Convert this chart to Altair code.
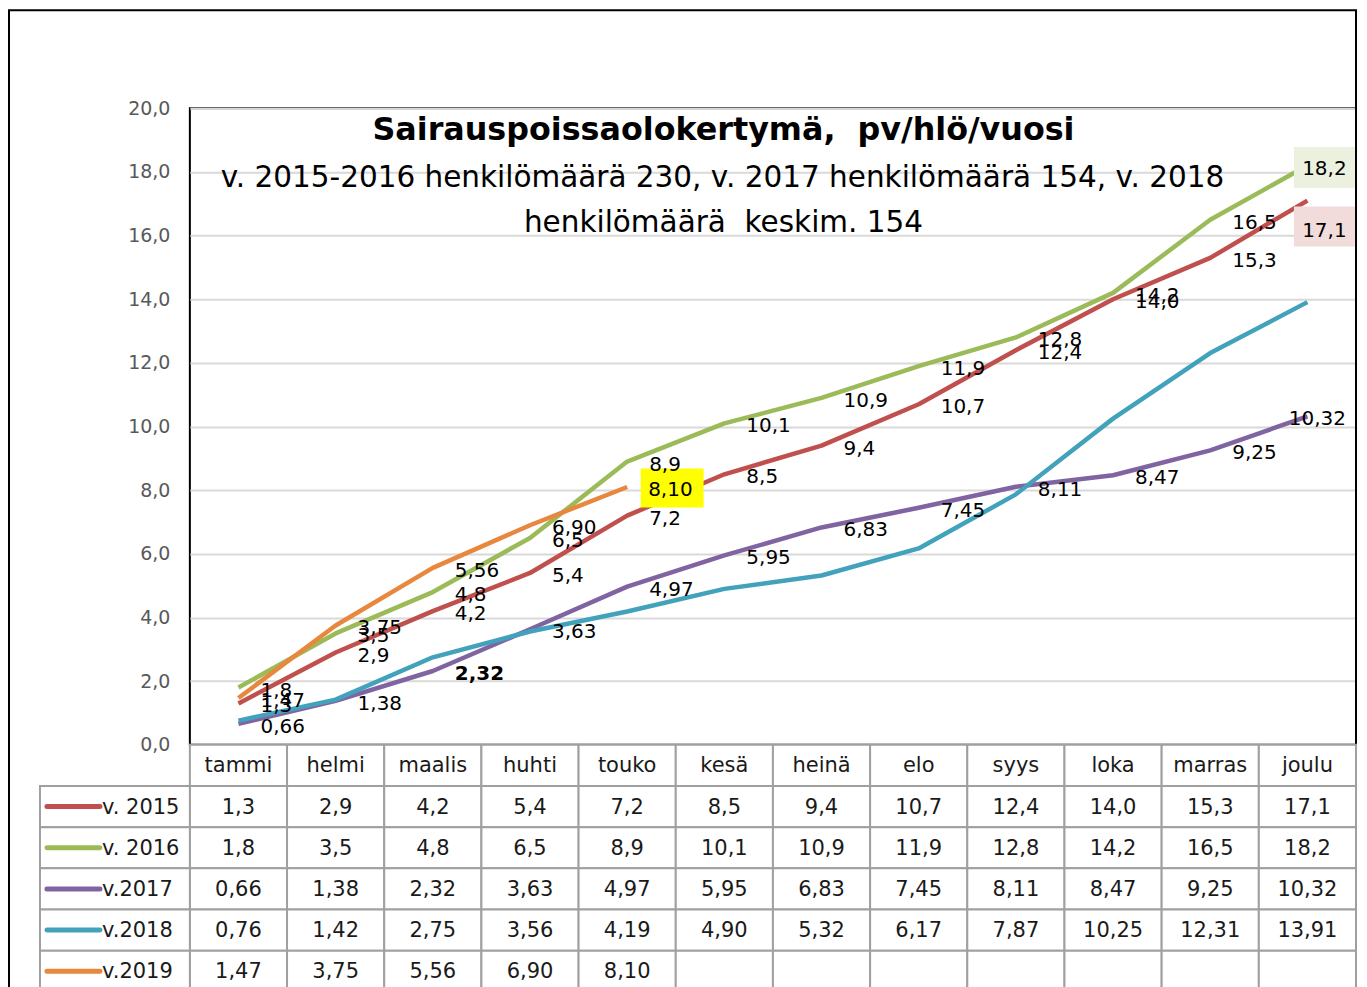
import altair as alt
import pandas as pd

MONTHS = ["tammi", "helmi", "maalis", "huhti", "touko", "kesä", "heinä",
          "elo", "syys", "loka", "marras", "joulu"]
SERIES = ["v. 2015", "v. 2016", "v.2017", "v.2018", "v.2019"]
V2015 = [1.3, 2.9, 4.2, 5.4, 7.2, 8.5, 9.4, 10.7, 12.4, 14.0, 15.3, 17.1]
V2016 = [1.8, 3.5, 4.8, 6.5, 8.9, 10.1, 10.9, 11.9, 12.8, 14.2, 16.5, 18.2]
V2017 = [0.66, 1.38, 2.32, 3.63, 4.97, 5.95, 6.83, 7.45, 8.11, 8.47, 9.25, 10.32]
V2018 = [0.76, 1.42, 2.75, 3.56, 4.19, 4.90, 5.32, 6.17, 7.87, 10.25, 12.31, 13.91]
V2019 = [1.47, 3.75, 5.56, 6.90, 8.10]
DECIMALS = [1, 1, 2, 2, 2]
LABELLED = [True, True, True, False, True]
COLORS = ["#C0504D", "#9BBB59", "#8064A2", "#42A2BC", "#E8873E"]
TITLE = "Sairauspoissaolokertymä,\u00a0 pv/hlö/vuosi"
SUBTITLE = ["v. 2015-2016 henkilömäärä 230, v. 2017 henkilömäärä 154, v. 2018",
            "henkilömäärä\u00a0 keskim. 154"]
Y_TICKS = list(range(0, 21, 2))

FONT = "DejaVu Sans"
W, H = 1167, 637
ROW_H = 41.2


def fmt(v, d):
    return f"{v:.{d}f}".replace(".", ",")


rows = []
for s, vals, d, lab in zip(SERIES, [V2015, V2016, V2017, V2018, V2019], DECIMALS, LABELLED):
    for i, v in enumerate(vals):
        rows.append(dict(series=s, month=MONTHS[i], idx=i, value=v,
                         label=fmt(v, d), labelled=lab, key=f"{s}|{MONTHS[i]}"))
df = pd.DataFrame(rows)

BOLD = ["v.2017|maalis"]
BOX_YELLOW = ["v.2019|touko"]
BOX_GREEN = ["v. 2016|joulu"]
BOX_PINK = ["v. 2015|joulu"]
SHIFT = ["v.2017|joulu"]
SPECIAL = BOLD + BOX_YELLOW + BOX_GREEN + BOX_PINK + SHIFT

lab_df = df[df.labelled]
normal = lab_df[~lab_df.key.isin(SPECIAL)]

xsc = alt.Scale(type="band", domain=MONTHS, paddingInner=0, paddingOuter=0)
XC = alt.X("month:N", scale=xsc, axis=None, bandPosition=0.5)
XB = alt.X("month:N", scale=xsc, axis=None)
ysc = alt.Scale(domain=[0, 20], nice=False, zero=False)
yaxis = alt.Axis(values=Y_TICKS, labelExpr="replace(format(datum.value, '.1f'), '.', ',')",
                 orient="left", grid=True, gridColor="#D9D9D9", gridWidth=2, domain=False,
                 ticks=False, labelPadding=20, labelFont=FONT, labelFontSize=19,
                 labelColor="#595959", title=None)
YV = alt.Y("value:Q", scale=ysc, axis=yaxis)
color = alt.Color("series:N", scale=alt.Scale(domain=SERIES, range=COLORS), legend=None)

lines = alt.Chart(df).mark_line(strokeWidth=4.5, strokeJoin="round").encode(
    x=XC, y=YV, color=color, order=alt.Order("idx:Q"), detail="series:N")

lab_base = dict(font=FONT, fontSize=20, color="black", baseline="middle")
labels = alt.Chart(normal).mark_text(align="left", dx=22, dy=3, **lab_base).encode(
    x=XC, y=YV, text="label:N")
bold = alt.Chart(df[df.key.isin(BOLD)]).mark_text(align="left", dx=22, dy=3, fontWeight="bold", **lab_base).encode(
    x=XC, y=YV, text="label:N")
shift = alt.Chart(df[df.key.isin(SHIFT)]).mark_text(align="center", dx=10, dy=3, **lab_base).encode(
    x=XC, y=YV, text="label:N")

box_y = alt.Chart(df[df.key.isin(BOX_YELLOW)]).mark_rect(width=63, height=39, xOffset=45, yOffset=1, color="#FFFF00").encode(x=XC, y=YV)
txt_y = alt.Chart(df[df.key.isin(BOX_YELLOW)]).mark_text(align="left", dx=21, dy=3, **lab_base).encode(x=XC, y=YV, text="label:N")
box_g = alt.Chart(df[df.key.isin(BOX_GREEN)]).mark_rect(width=61, height=41, xOffset=17, yOffset=2, color="#EBF1DE").encode(x=XC, y=YV)
txt_g = alt.Chart(df[df.key.isin(BOX_GREEN)]).mark_text(align="center", dx=17, dy=3, **lab_base).encode(x=XC, y=YV, text="label:N")
box_p = alt.Chart(df[df.key.isin(BOX_PINK)]).mark_rect(width=61, height=40, xOffset=17, yOffset=26, color="#F2DCDB").encode(x=XC, y=YV)
txt_p = alt.Chart(df[df.key.isin(BOX_PINK)]).mark_text(align="center", dx=17, dy=30, **lab_base).encode(x=XC, y=YV, text="label:N")

tdf = pd.DataFrame({"t": [TITLE]})
title = alt.Chart(tdf).mark_text(font=FONT, fontSize=31.8, fontWeight="bold", color="black",
                                 align="center", baseline="middle").encode(
    text="t:N", x=alt.value(534), y=alt.value(22))
sdf = pd.DataFrame({"t": SUBTITLE, "line": [0, 1]})
sub1 = alt.Chart(sdf[sdf.line == 0]).mark_text(font=FONT, fontSize=29.5, color="black",
                                               align="center", baseline="middle").encode(
    text="t:N", x=alt.value(533), y=alt.value(70))
sub2 = alt.Chart(sdf[sdf.line == 1]).mark_text(font=FONT, fontSize=29.5, color="black",
                                               align="center", baseline="middle").encode(
    text="t:N", x=alt.value(534), y=alt.value(115))

frame = alt.Chart(pd.DataFrame({"f": [0]})).mark_rect(fillOpacity=0, stroke="black", strokeWidth=2).encode(
    x=alt.value(-181), x2=alt.value(W), y=alt.value(-98), y2=alt.value(H + 300))

plot = alt.layer(lines, box_y, box_g, box_p, labels, bold, shift, txt_y, txt_g, txt_p,
                 title, sub1, sub2, frame)

# ---- data table below the plot ----
ROWS = ["hdr"] + SERIES
trows = []
for m in MONTHS:
    trows.append(dict(row="hdr", month=m, text=m))
for s in SERIES:
    sub = df[df.series == s].set_index("month")
    for m in MONTHS:
        trows.append(dict(row=s, month=m, text=sub.label[m] if m in sub.index else ""))
table_df = pd.DataFrame(trows)
leg_df = pd.DataFrame({"row": SERIES, "series": SERIES})

ytsc = alt.Scale(domain=ROWS, range=[H, H + ROW_H * len(ROWS)], paddingInner=0, paddingOuter=0)
YTB = alt.Y("row:N", scale=ytsc, axis=None)
YTC = alt.Y("row:N", scale=ytsc, axis=None, bandPosition=0.5)

cells = alt.Chart(table_df).mark_rect(fill="white", stroke="#A0A0A0", strokeWidth=2).encode(x=XB, y=YTB)
cell_txt = alt.Chart(table_df).mark_text(font=FONT, fontSize=21, color="#1a1a1a", baseline="middle", dy=1).encode(
    x=XC, y=YTC, text="text:N")
leg_cells = alt.Chart(leg_df).mark_rect(fill="white", stroke="#A0A0A0", strokeWidth=2).encode(
    x=alt.value(-150), x2=alt.value(0), y=YTB)
leg_sw = alt.Chart(leg_df).mark_rule(strokeWidth=5, strokeCap="round").encode(
    x=alt.value(-143), x2=alt.value(-90), y=YTC, color=color)
leg_txt = alt.Chart(leg_df).mark_text(font=FONT, fontSize=21, color="#1a1a1a", align="left", baseline="middle", dy=1).encode(
    x=alt.value(-88), y=YTC, text="series:N")

table = alt.layer(cells, cell_txt, leg_cells, leg_sw, leg_txt)

chart = alt.layer(plot, table).resolve_scale(y="independent").properties(
    width=W, height=H,
    autosize=alt.AutoSizeParams(type="none"),
    padding={"left": 182, "top": 100, "right": 3, "bottom": 260},
    background="white",
).configure_view(stroke="black", strokeWidth=2)

chart.save("out.html", embed_options={"renderer": "svg", "actions": False})
